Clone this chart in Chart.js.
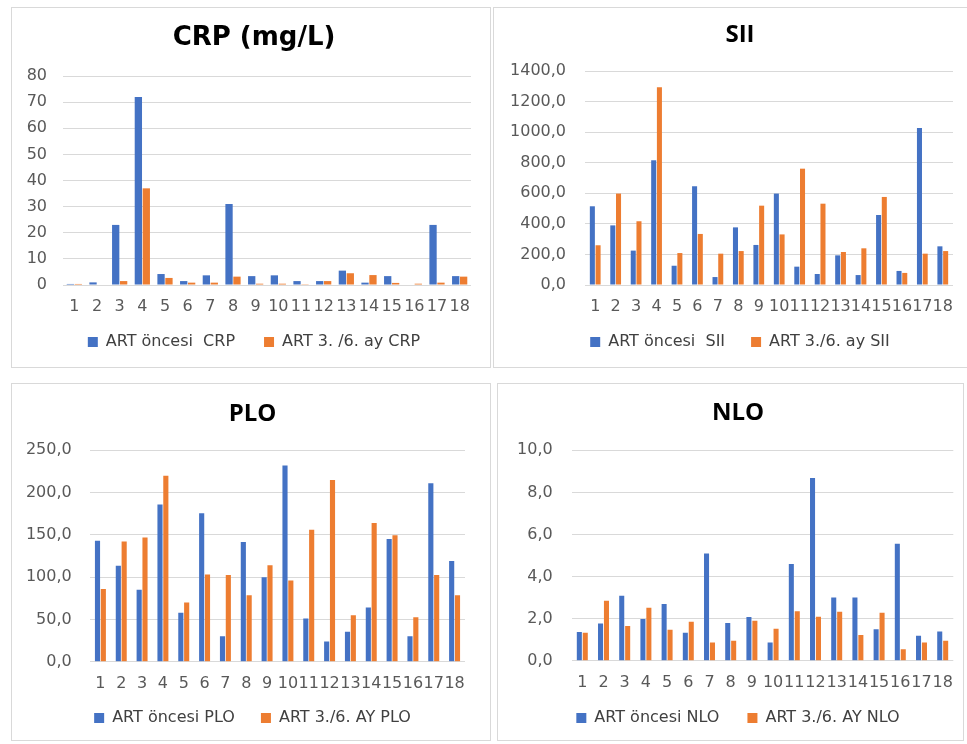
<!DOCTYPE html>
<html>
<head>
<meta charset="utf-8">
<script src="https://cdn.jsdelivr.net/npm/chart.js@4/dist/chart.umd.min.js"></script>
<style>
  html, body { margin: 0; padding: 0; background: #ffffff; }
  body { width: 967px; height: 744px; position: relative; overflow: hidden; }
  .panel { position: absolute; border: 1px solid #d9d9d9; box-sizing: border-box; background: #ffffff; }
  canvas { position: absolute; }
</style>
</head>
<body>
<div class="panel" style="left:11px;top:7px;width:480px;height:361px"></div>
<div class="panel" style="left:493px;top:7px;width:480px;height:361px"></div>
<div class="panel" style="left:11px;top:383px;width:480px;height:358px"></div>
<div class="panel" style="left:497px;top:383px;width:467px;height:358px"></div>

<canvas id="crpChart" width="479" height="360" style="left:11px;top:7px"></canvas>
<canvas id="siiChart" width="473" height="360" style="left:494px;top:7px"></canvas>
<canvas id="ploChart" width="479" height="357" style="left:11px;top:383px"></canvas>
<canvas id="nloChart" width="467" height="357" style="left:497px;top:383px"></canvas>

<script>
// Patient numbers on the x axis
const categories = ['1','2','3','4','5','6','7','8','9','10','11','12','13','14','15','16','17','18'];

// CRP (mg/L)
const crpBefore = [0.4, 1.0, 23, 72, 4.2, 1.5, 3.7, 31, 3.4, 3.7, 1.5, 1.5, 5.5, 0.9, 3.4, 0, 23, 3.4];
const crpAfter  = [0.4, 0.2, 1.5, 37, 2.7, 0.9, 0.9, 3.2, 0.5, 0.5, 0.3, 1.5, 4.5, 3.8, 0.8, 0.5, 0.9, 3.2];
const crpNames  = ['ART öncesi  CRP', 'ART 3. /6. ay CRP'];

// SII
const siiBefore = [515, 390, 225, 816, 126, 646, 52, 377, 262, 598, 120, 72, 194, 65, 458, 92, 1027, 253];
const siiAfter  = [260, 598, 417, 1293, 209, 334, 205, 222, 519, 331, 761, 532, 216, 240, 576, 79, 205, 222];
const siiNames  = ['ART öncesi  SII', 'ART 3./6. ay SII'];

// PLO
const ploBefore = [143, 113.6, 85, 186, 58, 175.5, 30, 141.5, 100, 232, 51, 24, 35.5, 64, 145, 30, 211, 119];
const ploAfter  = [86, 142, 147, 220, 70, 103, 102.5, 78.5, 114, 96, 156, 215, 55, 164, 149.5, 52.5, 102.5, 78.5];
const ploNames  = ['ART öncesi PLO', 'ART 3./6. AY PLO'];

// NLO
const nloBefore = [1.36, 1.77, 3.09, 1.98, 2.69, 1.33, 5.09, 1.79, 2.08, 0.87, 4.6, 8.68, 3.0, 3.0, 1.49, 5.56, 1.19, 1.39];
const nloAfter  = [1.33, 2.85, 1.65, 2.52, 1.47, 1.85, 0.87, 0.95, 1.9, 1.52, 2.35, 2.09, 2.33, 1.22, 2.28, 0.54, 0.87, 0.95];
const nloNames  = ['ART öncesi NLO', 'ART 3./6. AY NLO'];

const BLUE = '#4472C4';
const ORANGE = '#ED7D31';
const TICK_COLOR = '#595959';
const GRID_COLOR = '#d9d9d9';
const TEXT_FONT = 'DejaVu Sans';

const commaOne = v => Number(v).toFixed(1).replace('.', ',');
const plain = v => String(v);

// Tick labels may reach past their scale box (the layout is set by hand),
// so let them draw without the per-scale clip.
const unclippedTickLabels = {
  id: 'unclippedTickLabels',
  afterLayout(chart) {
    for (const s of Object.values(chart.scales)) {
      s._computeLabelArea = () => undefined;
    }
  }
};

// Builds one clustered bar chart; g holds the layout in canvas pixels.
function buildChart(id, title, names, before, after, yMax, yStep, fmt, g) {
  const W = g.w, H = g.h;
  const legendFs = 16;
  const tickFs = 16;
  const padRight = W - g.plotRight;
  const padLeft = 2 * g.centerX - W + padRight;
  const tTop = g.titleY - 0.6 * g.titleSize;
  const tBot = g.plotTop - tTop - 1.2 * g.titleSize;
  const padBottom = H - g.legendY - 10 - legendFs / 2;
  const legendTop = g.legendY - legendFs / 2 - g.legendGap;
  const xHeight = legendTop - g.plotBottom;

  return new Chart(document.getElementById(id), {
    type: 'bar',
    plugins: [unclippedTickLabels],
    data: {
      labels: categories,
      datasets: [
        { label: names[0], data: before, backgroundColor: BLUE, borderWidth: 0,
          categoryPercentage: g.catPct, barPercentage: g.barPct },
        { label: names[1], data: after, backgroundColor: ORANGE, borderWidth: 0,
          categoryPercentage: g.catPct, barPercentage: g.barPct }
      ]
    },
    options: {
      responsive: false,
      animation: false,
      layout: { padding: { top: 0, left: padLeft, right: padRight, bottom: padBottom } },
      plugins: {
        title: {
          display: true,
          text: title,
          color: '#000000',
          font: { family: g.titleFont, size: g.titleSize, weight: 'bold' },
          padding: { top: tTop, bottom: tBot }
        },
        legend: {
          display: true,
          position: 'bottom',
          labels: {
            boxWidth: 10,
            boxHeight: 10,
            padding: g.legendGap,
            color: '#404040',
            font: { family: TEXT_FONT, size: legendFs }
          }
        },
        tooltip: { enabled: false }
      },
      scales: {
        x: {
          grid: { display: false },
          border: { display: false },
          ticks: {
            color: TICK_COLOR,
            font: { family: TEXT_FONT, size: tickFs },
            maxRotation: 0,
            minRotation: 0,
            autoSkip: false,
            padding: g.xLabelOffset - 0.6 * tickFs - 6.5
          },
          afterFit: s => { s.height = xHeight; }
        },
        y: {
          min: 0,
          max: yMax,
          grid: { color: GRID_COLOR, lineWidth: 1, drawTicks: false },
          border: { display: false },
          ticks: {
            stepSize: yStep,
            autoSkip: false,
            color: TICK_COLOR,
            font: { family: TEXT_FONT, size: tickFs },
            padding: g.plotLeft - g.yLabelRight,
            callback: v => fmt(v)
          },
          afterFit: s => { s.width = g.plotLeft - padLeft; }
        }
      }
    }
  });
}

buildChart('crpChart', 'CRP (mg/L)', crpNames, crpBefore, crpAfter, 80, 10, plain, {
  w: 479, h: 360, plotLeft: 52, plotRight: 460, plotTop: 69, plotBottom: 278,
  yLabelRight: 36, centerX: 243, titleY: 31.5, titleSize: 26, titleFont: 'DejaVu Sans',
  xLabelOffset: 20, legendY: 335, legendGap: 29, catPct: 0.7, barPct: 0.92
});

buildChart('siiChart', 'SII', siiNames, siiBefore, siiAfter, 1400, 200, commaOne, {
  w: 473, h: 360, plotLeft: 91, plotRight: 459, plotTop: 64, plotBottom: 278,
  yLabelRight: 72, centerX: 246, titleY: 28, titleSize: 24, titleFont: 'Open Sans',
  xLabelOffset: 20.7, legendY: 335, legendGap: 26, catPct: 0.56, barPct: 0.88
});

buildChart('ploChart', 'PLO', ploNames, ploBefore, ploAfter, 250, 50, commaOne, {
  w: 479, h: 357, plotLeft: 79, plotRight: 454, plotTop: 67.3, plotBottom: 278.7,
  yLabelRight: 60.7, centerX: 241.5, titleY: 31.3, titleSize: 24, titleFont: 'Open Sans',
  xLabelOffset: 20.6, legendY: 335, legendGap: 26, catPct: 0.56, barPct: 0.88
});

buildChart('nloChart', 'NLO', nloNames, nloBefore, nloAfter, 10, 2, commaOne, {
  w: 467, h: 357, plotLeft: 74.7, plotRight: 456.3, plotTop: 67.3, plotBottom: 277.7,
  yLabelRight: 55.7, centerX: 241, titleY: 30.3, titleSize: 24, titleFont: 'Open Sans',
  xLabelOffset: 20.9, legendY: 335, legendGap: 28, catPct: 0.56, barPct: 0.85
});
</script>
</body>
</html>
